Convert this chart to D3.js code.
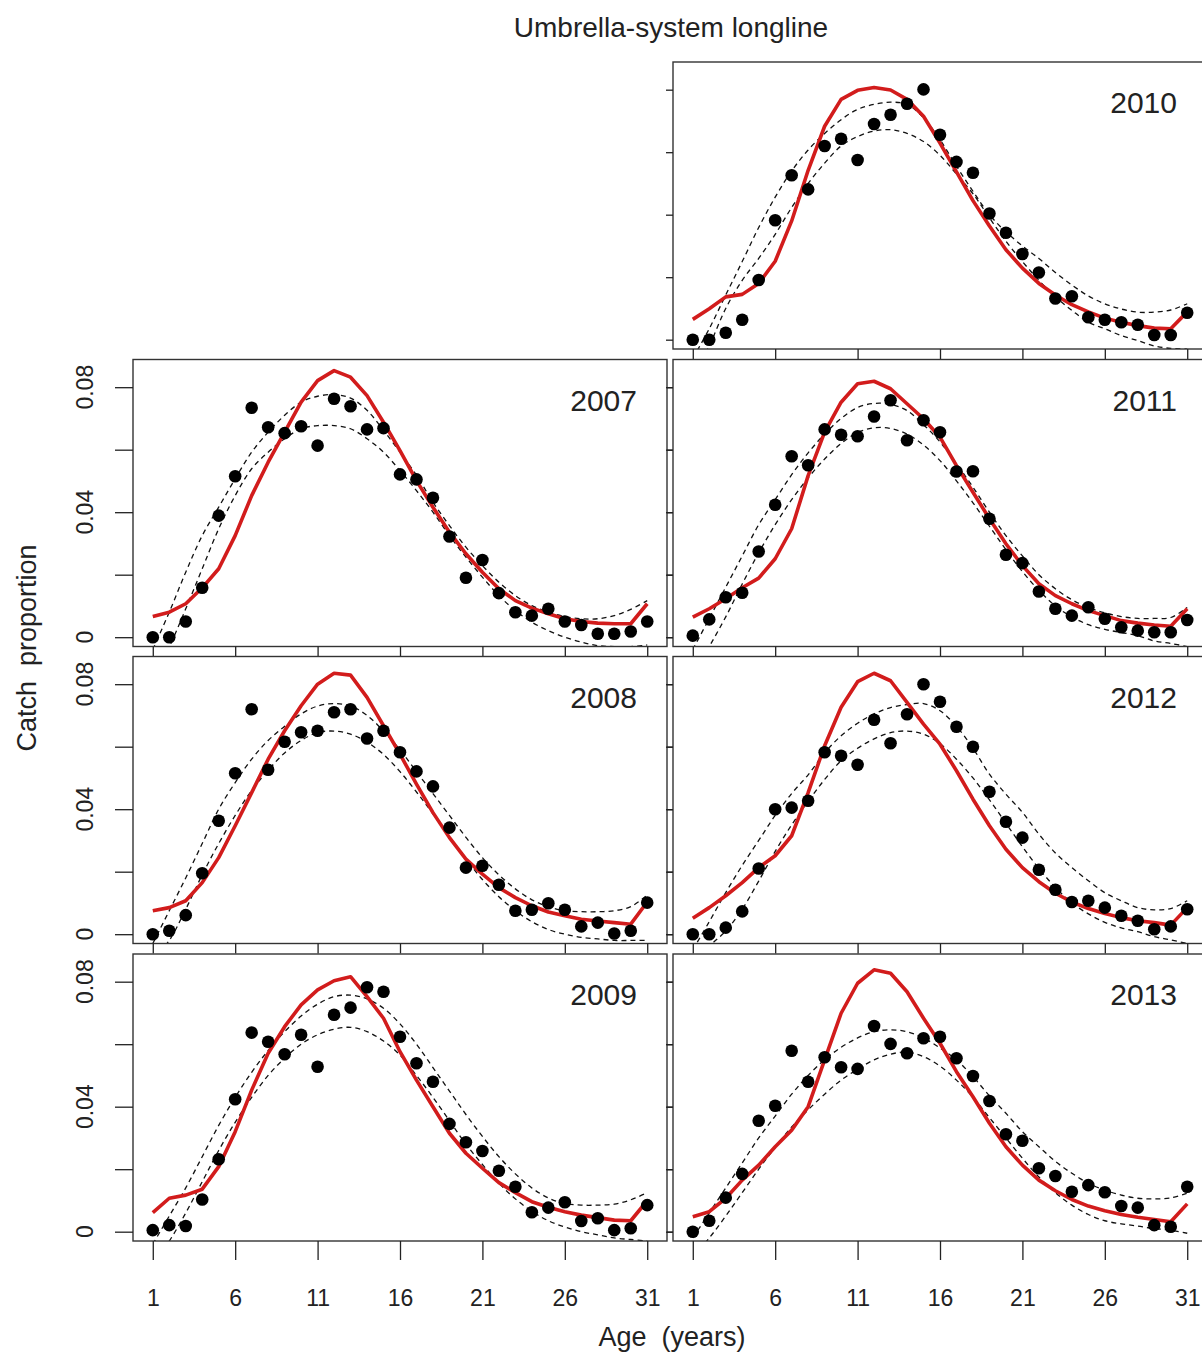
<!DOCTYPE html>
<html><head><meta charset="utf-8">
<script src="https://cdn.jsdelivr.net/npm/d3@7"></script>
<style>
body{margin:0;background:#fff;}
text{font-family:"Liberation Sans",Arial,sans-serif;fill:#222;}
</style>
</head><body>
<svg id="c" width="1202" height="1356"></svg>
<script>
const ages = d3.range(1, 32);
const xTicks = [1, 6, 11, 16, 21, 26, 31];
const yTicks = [0, 0.02, 0.04, 0.06, 0.08];
const yTickLabels = ["0", "", "0.04", "", "0.08"];
const titleText = "Umbrella-system longline";
const xTitle = "Age  (years)";
const yTitle = "Catch  proportion";

const obs2007 = [0,0,0.0050,0.0158,0.0389,0.0515,0.0734,0.0672,0.0653,0.0675,0.0613,0.0763,0.0739,0.0665,0.0669,0.0521,0.0505,0.0446,0.0322,0.0190,0.0247,0.0141,0.0080,0.0069,0.0091,0.0050,0.0039,0.0011,0.0011,0.0018,0.0050];
const pred2007 = [0.0066,0.0080,0.0107,0.0158,0.0219,0.0325,0.0453,0.0560,0.0656,0.0752,0.0821,0.0853,0.0832,0.0773,0.0688,0.0597,0.0501,0.0416,0.0336,0.0267,0.0208,0.0155,0.0117,0.0093,0.0075,0.0059,0.0050,0.0045,0.0043,0.0043,0.0107];
const upper2007 = [-0.004,0.0080,0.0208,0.0325,0.0416,0.0507,0.0592,0.0656,0.0710,0.0752,0.0771,0.0776,0.0765,0.0726,0.0662,0.0592,0.0518,0.0432,0.0357,0.0288,0.0229,0.0176,0.0133,0.0101,0.0080,0.0066,0.0059,0.0059,0.0069,0.0089,0.0117];
const lower2007 = [-0.012,-0.003,0.0091,0.0219,0.0347,0.0453,0.0539,0.0592,0.0635,0.0667,0.0677,0.0677,0.0667,0.0635,0.0592,0.0533,0.0469,0.0400,0.0325,0.0256,0.0192,0.0133,0.0085,0.0048,0.0021,0.0,-0.0016,-0.0027,-0.003,-0.003,-0.0025];

const obs2008 = [0,0.0011,0.0061,0.0195,0.0363,0.0515,0.0720,0.0526,0.0616,0.0646,0.0651,0.0710,0.0720,0.0626,0.0651,0.0582,0.0521,0.0473,0.0341,0.0213,0.0219,0.0158,0.0075,0.0078,0.0099,0.0078,0.0025,0.0037,0.0002,0.0011,0.0101];
const pred2008 = [0.0075,0.0085,0.0107,0.0165,0.0245,0.0347,0.0453,0.0560,0.0651,0.0731,0.0800,0.0835,0.0829,0.0758,0.0667,0.0576,0.0480,0.0389,0.0309,0.0240,0.0192,0.0149,0.0117,0.0091,0.0071,0.0059,0.0048,0.0042,0.0037,0.0032,0.0103];
const upper2008 = [-0.003,0.0075,0.018,0.029,0.040,0.0485,0.056,0.062,0.0665,0.0705,0.073,0.0738,0.073,0.070,0.065,0.059,0.052,0.045,0.038,0.031,0.0245,0.019,0.0145,0.011,0.0088,0.0075,0.0072,0.0072,0.0075,0.0088,0.0125];
const lower2008 = [-0.008,-0.002,0.008,0.019,0.029,0.038,0.046,0.0525,0.058,0.062,0.0645,0.065,0.064,0.0615,0.0575,0.052,0.0455,0.0385,0.031,0.024,0.0175,0.012,0.0075,0.004,0.0015,0,-0.001,-0.0015,-0.002,-0.002,-0.002];

const obs2009 = [0.0005,0.0021,0.0018,0.0103,0.0232,0.0424,0.0637,0.0608,0.0568,0.0630,0.0528,0.0694,0.0717,0.0782,0.0768,0.0624,0.0539,0.0480,0.0345,0.0286,0.0258,0.0195,0.0144,0.0062,0.0077,0.0094,0.0034,0.0043,0.0005,0.0011,0.0085];
const pred2009 = [0.0061,0.0107,0.0117,0.0136,0.0208,0.0320,0.0453,0.0571,0.0656,0.0726,0.0774,0.0803,0.0816,0.0752,0.0683,0.0576,0.0485,0.0400,0.0315,0.0251,0.0203,0.0157,0.0125,0.0096,0.0078,0.0064,0.0053,0.0045,0.0037,0.0035,0.0099];
const upper2009 = [-0.004,0.005,0.014,0.024,0.034,0.043,0.051,0.058,0.064,0.069,0.0728,0.0752,0.0757,0.0745,0.0715,0.0665,0.060,0.0525,0.045,0.0375,0.0305,0.024,0.0185,0.014,0.0108,0.009,0.0085,0.0085,0.0088,0.0102,0.0125];
const lower2009 = [-0.010,-0.003,0.006,0.016,0.026,0.035,0.043,0.050,0.0555,0.060,0.063,0.0648,0.0654,0.064,0.061,0.0565,0.050,0.043,0.0355,0.028,0.0215,0.0155,0.0105,0.0065,0.0035,0.0015,0,-0.001,-0.002,-0.0025,-0.003];

const obs2010 = [0,0,0.0022,0.0064,0.0191,0.0382,0.0526,0.0481,0.0620,0.0643,0.0575,0.0690,0.0720,0.0755,0.0801,0.0656,0.0569,0.0534,0.0404,0.0342,0.0274,0.0215,0.0132,0.0139,0.0072,0.0064,0.0056,0.0048,0.0015,0.0015,0.0086];
const pred2010 = [0.0065,0.0099,0.0137,0.0145,0.0180,0.0251,0.0380,0.0542,0.0683,0.0769,0.0798,0.0807,0.0799,0.0769,0.0715,0.0629,0.0537,0.0445,0.0364,0.0288,0.0229,0.0180,0.0143,0.0112,0.0089,0.0069,0.0056,0.0045,0.0037,0.0035,0.0089];
const upper2010 = [-0.006,0.0035,0.0143,0.025,0.0359,0.0456,0.054,0.0607,0.066,0.0704,0.0737,0.0753,0.076,0.0753,0.071,0.064,0.0555,0.0475,0.040,0.0345,0.030,0.026,0.0215,0.0175,0.014,0.0115,0.0098,0.0088,0.0088,0.0095,0.0115];
const lower2010 = [-0.012,-0.002,0.010,0.019,0.026,0.0337,0.0423,0.050,0.0565,0.062,0.065,0.0668,0.0672,0.066,0.0634,0.059,0.053,0.0467,0.039,0.0315,0.025,0.019,0.0137,0.0094,0.0056,0.0035,0.0013,-0.0003,-0.002,-0.0028,-0.003];

const obs2011 = [0.0005,0.0057,0.0128,0.0142,0.0274,0.0424,0.0579,0.0550,0.0665,0.0648,0.0643,0.0706,0.0758,0.0630,0.0694,0.0656,0.0530,0.0531,0.0379,0.0264,0.0237,0.0146,0.0091,0.0069,0.0096,0.0059,0.0032,0.0021,0.0016,0.0016,0.0055];
const pred2011 = [0.0064,0.0091,0.0123,0.0158,0.0189,0.0251,0.0347,0.0517,0.0656,0.0752,0.0811,0.0819,0.0795,0.0747,0.0699,0.0640,0.0549,0.0464,0.0379,0.0299,0.0229,0.0171,0.0133,0.0107,0.0085,0.0069,0.0053,0.0045,0.0039,0.0035,0.0091];
const upper2011 = [-0.004,0.006,0.016,0.026,0.036,0.044,0.052,0.059,0.065,0.070,0.0735,0.0748,0.0745,0.0725,0.068,0.0625,0.0555,0.048,0.040,0.0325,0.026,0.020,0.0155,0.012,0.0095,0.0078,0.0066,0.006,0.006,0.0063,0.0095];
const lower2011 = [-0.012,-0.003,0.0065,0.017,0.027,0.036,0.044,0.051,0.057,0.062,0.0655,0.067,0.0668,0.065,0.0615,0.0565,0.050,0.043,0.0355,0.028,0.021,0.015,0.010,0.0065,0.004,0.0025,0.0015,0.0005,-0.0012,-0.002,-0.003];

const obs2012 = [0,0,0.0021,0.0073,0.0210,0.0400,0.0405,0.0427,0.0582,0.0571,0.0542,0.0686,0.0611,0.0704,0.0800,0.0744,0.0664,0.0600,0.0456,0.0360,0.0309,0.0206,0.0142,0.0103,0.0107,0.0085,0.0059,0.0043,0.0016,0.0025,0.0080];
const pred2012 = [0.0051,0.0085,0.0123,0.0165,0.0213,0.0251,0.0315,0.0453,0.0603,0.0726,0.0808,0.0835,0.0811,0.0742,0.0672,0.0608,0.0523,0.0432,0.0347,0.0272,0.0213,0.0168,0.0131,0.0103,0.0082,0.0066,0.0053,0.0043,0.0037,0.0029,0.0085];
const upper2012 = [-0.005,0.004,0.0133,0.022,0.030,0.038,0.045,0.051,0.058,0.0635,0.0675,0.0705,0.0725,0.0735,0.0738,0.0715,0.0665,0.0595,0.0512,0.0448,0.039,0.032,0.026,0.0213,0.0171,0.0133,0.0107,0.0085,0.0078,0.0082,0.0107];
const lower2012 = [-0.012,-0.004,0.001,0.008,0.017,0.0265,0.035,0.0425,0.0495,0.0555,0.0595,0.0625,0.0645,0.065,0.064,0.061,0.056,0.050,0.043,0.0355,0.028,0.021,0.015,0.010,0.0065,0.0038,0.002,0.0008,-0.0008,-0.0018,-0.003];

const obs2013 = [0,0.0035,0.0109,0.0185,0.0355,0.0403,0.0579,0.0480,0.0558,0.0526,0.0521,0.0658,0.0601,0.0571,0.0619,0.0624,0.0555,0.0498,0.0418,0.0312,0.0291,0.0203,0.0178,0.0128,0.0149,0.0126,0.0082,0.0077,0.0021,0.0016,0.0144];
const pred2013 = [0.0048,0.0064,0.0107,0.0165,0.0213,0.0272,0.0325,0.0400,0.0550,0.0699,0.0795,0.0838,0.0827,0.0768,0.0683,0.0603,0.0512,0.0432,0.0347,0.0272,0.0213,0.0165,0.0131,0.0103,0.0082,0.0067,0.0055,0.0046,0.0039,0.0032,0.0089];
const upper2013 = [-0.002,0.006,0.014,0.022,0.030,0.037,0.044,0.050,0.055,0.059,0.062,0.064,0.0646,0.064,0.062,0.0588,0.055,0.0496,0.0435,0.0379,0.032,0.0272,0.0225,0.0187,0.0155,0.0133,0.0117,0.0107,0.0105,0.0108,0.0123];
const lower2013 = [-0.008,-0.002,0.005,0.0125,0.020,0.027,0.0335,0.039,0.044,0.0485,0.052,0.055,0.0568,0.0575,0.056,0.053,0.0485,0.043,0.0365,0.030,0.0235,0.0175,0.0125,0.0085,0.0055,0.0035,0.0025,0.0018,0.001,0.0005,-0.0005];

const panels = [
  {year:"2010", col:1, row:0, obs:obs2010, pred:pred2010, upper:upper2010, lower:lower2010},
  {year:"2007", col:0, row:1, obs:obs2007, pred:pred2007, upper:upper2007, lower:lower2007},
  {year:"2011", col:1, row:1, obs:obs2011, pred:pred2011, upper:upper2011, lower:lower2011},
  {year:"2008", col:0, row:2, obs:obs2008, pred:pred2008, upper:upper2008, lower:lower2008},
  {year:"2012", col:1, row:2, obs:obs2012, pred:pred2012, upper:upper2012, lower:lower2012},
  {year:"2009", col:0, row:3, obs:obs2009, pred:pred2009, upper:upper2009, lower:lower2009},
  {year:"2013", col:1, row:3, obs:obs2013, pred:pred2013, upper:upper2013, lower:lower2013}
];

const colX = [133, 673], rowY = [62, 359.5, 656.5, 954];
const W = 534, H = 287;
const svg = d3.select("#c");
const lastRow = 3;

panels.forEach((p, i) => {
  const x0 = colX[p.col], y0 = rowY[p.row];
  const x = d3.scaleLinear().domain([-0.2, 32.2]).range([x0, x0 + W]);
  const y = d3.scaleLinear().domain([-0.00298, 0.08886]).range([y0 + H, y0]);
  const cid = "clip" + i;
  svg.append("clipPath").attr("id", cid).append("rect")
    .attr("x", x0).attr("y", y0).attr("width", W).attr("height", H);
  const g = svg.append("g");
  const cg = g.append("g").attr("clip-path", `url(#${cid})`);

  const dashLine = d3.line().x((d, k) => x(ages[k])).y(d => y(d)).curve(d3.curveCatmullRom.alpha(0.5));
  [p.upper, p.lower].forEach(arr => {
    cg.append("path").attr("d", dashLine(arr)).attr("fill", "none")
      .attr("stroke", "#111").attr("stroke-width", 1.3).attr("stroke-dasharray", "5,4");
  });
  const redLine = d3.line().x((d, k) => x(ages[k])).y(d => y(d));
  cg.append("path").attr("d", redLine(p.pred)).attr("fill", "none")
    .attr("stroke", "#d21c1c").attr("stroke-width", 3.6).attr("stroke-linejoin", "round");
  cg.selectAll("circle").data(p.obs).join("circle")
    .attr("cx", (d, k) => x(ages[k])).attr("cy", d => y(d)).attr("r", 6.3).attr("fill", "#000");

  g.append("rect").attr("x", x0).attr("y", y0).attr("width", W).attr("height", H)
    .attr("fill", "none").attr("stroke", "#333").attr("stroke-width", 1.4);

  const styleAxis = sel => {
    sel.select(".domain").remove();
    sel.selectAll(".tick line").attr("stroke", "#222").attr("stroke-width", 1.3);
    sel.selectAll(".tick text").attr("fill", "#222").style("font-family", '"Liberation Sans",Arial,sans-serif');
  };

  // bottom ticks
  const isBottom = p.row === lastRow;
  const xAxis = d3.axisBottom(x).tickValues(xTicks).tickSize(isBottom ? 19 : 10)
    .tickPadding(isBottom ? 30 : 3).tickFormat(isBottom ? d3.format("d") : () => "");
  const xg = g.append("g").attr("transform", `translate(0,${y0 + H})`).call(xAxis);
  styleAxis(xg);
  xg.selectAll(".tick text").attr("font-size", 23);

  // left ticks
  if (p.col === 0) {
    const yAxis = d3.axisLeft(y).tickValues(yTicks).tickSize(18).tickFormat(() => "");
    styleAxis(g.append("g").attr("transform", `translate(${x0},0)`).call(yAxis));
    yTicks.forEach((v, k) => {
      if (!yTickLabels[k]) return;
      g.append("text").attr("transform", `translate(93,${y(v)}) rotate(-90)`)
        .attr("text-anchor", "middle").attr("font-size", 23).text(yTickLabels[k]);
    });
    const yr = d3.axisRight(y).tickValues(yTicks).tickSize(6).tickFormat(() => "");
    styleAxis(g.append("g").attr("transform", `translate(${x0 + W},0)`).call(yr));
  } else {
    const yl = d3.axisLeft(y).tickValues(yTicks).tickSize(7).tickFormat(() => "");
    styleAxis(g.append("g").attr("transform", `translate(${x0},0)`).call(yl));
  }

  g.append("text").attr("x", x0 + W - 30).attr("y", y0 + 51)
    .attr("text-anchor", "end").attr("font-size", 30).text(p.year);
});

svg.append("text").attr("x", 671).attr("y", 37).attr("text-anchor", "middle")
  .attr("font-size", 28).text(titleText);
svg.append("text").attr("x", 672).attr("y", 1346).attr("text-anchor", "middle")
  .attr("font-size", 27).style("white-space", "pre").text(xTitle);
svg.append("text").attr("transform", "translate(36,648) rotate(-90)").attr("text-anchor", "middle")
  .attr("font-size", 27).style("white-space", "pre").text(yTitle);
</script>
</body></html>
